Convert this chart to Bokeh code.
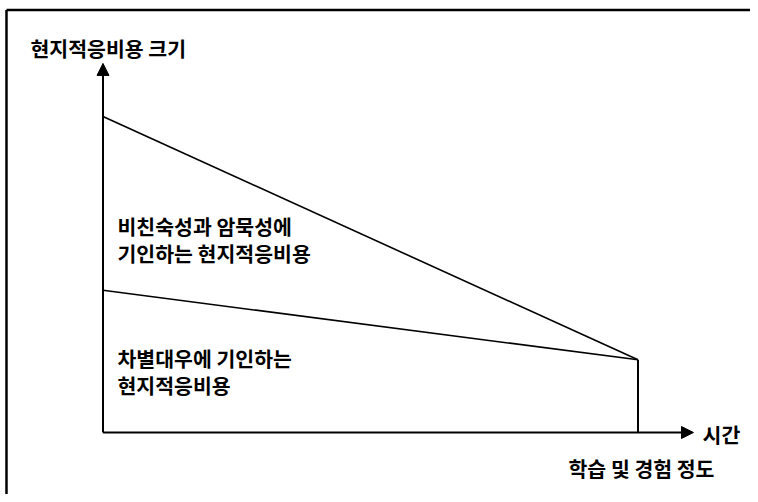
from bokeh.plotting import figure
from bokeh.models import Range1d, Arrow, NormalHead
from bokeh.core.properties import value
from bokeh.embed import file_html
from bokeh.resources import INLINE

# Data (time: 0 = start, 1 = full learning/experience)
time = [0.0, 1.0]
cost_total = [100.0, 23.0]      # 비친숙성과 암묵성 + 차별대우
cost_discrim = [45.0, 23.0]     # 차별대우에 기인하는 비용
y_axis_label = "현지적응비용 크기"
x_axis_label = "시간"
x_sub_label = "학습 및 경험 정도"
upper_label = ["비친숙성과 암묵성에", "기인하는 현지적응비용"]
lower_label = ["차별대우에 기인하는", "현지적응비용"]

FONT = value("Noto Sans CJK KR")

p = figure(width=750, height=494, output_backend="svg", toolbar_location=None,
           x_range=Range1d(-0.19159, 1.21028), y_range=Range1d(-19.62, 136.71),
           min_border=0)
p.axis.visible = False
p.grid.visible = False
p.outline_line_color = None
p.background_fill_color = "white"
p.border_fill_color = "white"

# frame (left and top)
p.line([-0.1804, -0.1804], [-19.62, 133.7], line_color="black", line_width=2.5)
p.line([-0.1804, 1.21028], [133.7, 133.7], line_color="black", line_width=2.5)

# axes arrows
p.add_layout(Arrow(x_start=0, y_start=0, x_end=0, y_end=116.8, line_width=2,
                   end=NormalHead(size=12, fill_color="black", line_color="black")))
p.add_layout(Arrow(x_start=0, y_start=0, x_end=1.1037, y_end=0, line_width=2,
                   end=NormalHead(size=12, fill_color="black", line_color="black")))

# cost lines
p.line(time, cost_total, line_color="black", line_width=1.6)
p.line(time, cost_discrim, line_color="black", line_width=1.6)
p.line([time[1], time[1]], [0, cost_total[1]], line_color="black", line_width=2)

kw = dict(text_font=FONT, text_font_style="bold", text_font_size="20.5px",
          text_color="black", text_align="left", text_baseline="middle")
p.text(x=[-0.1355], y=[121.68], text=[y_axis_label], **kw)
p.text(x=[0.0271, 0.0271], y=[65.5, 56.8], text=upper_label, **kw)
p.text(x=[0.0271, 0.0271], y=[23.73, 15.19], text=lower_label, **kw)
p.text(x=[1.1206], y=[-0.47], text=[x_axis_label], **kw)
p.text(x=[0.8701], y=[-11.39], text=[x_sub_label], **kw)

open("out.html", "w").write(file_html(p, INLINE))
